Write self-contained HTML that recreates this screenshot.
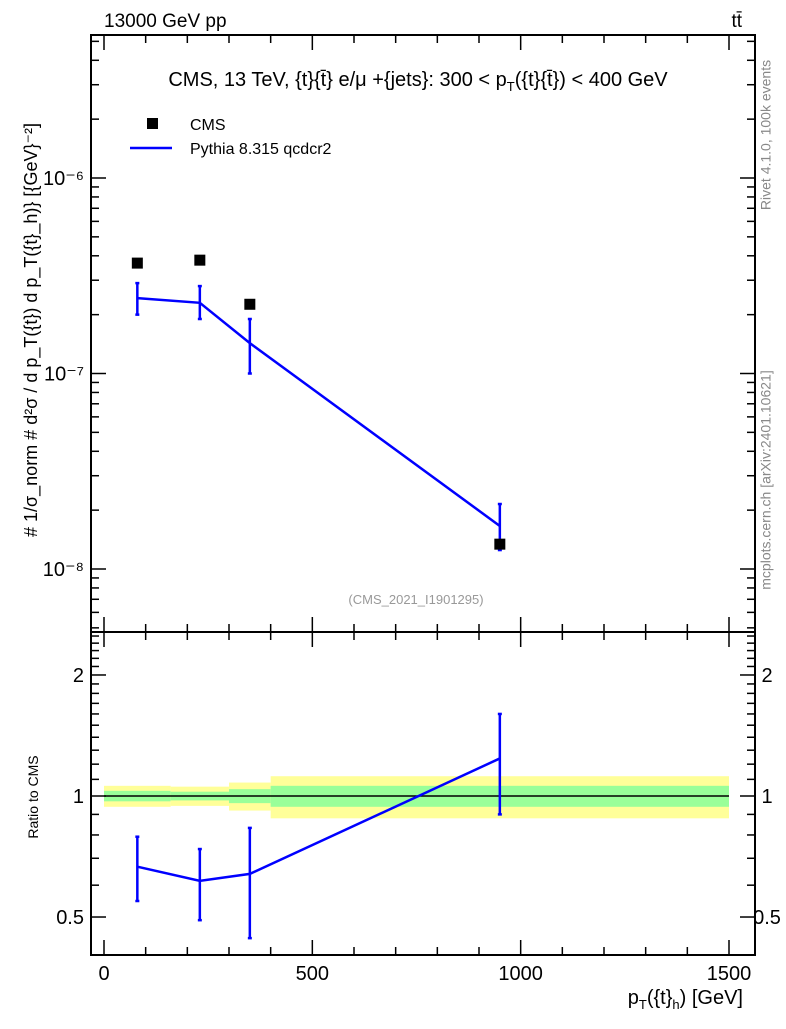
<!DOCTYPE html>
<html><head><meta charset="utf-8"><style>
body{margin:0;background:#fff;font-family:"Liberation Sans",sans-serif}
svg text{font-family:"Liberation Sans","DejaVu Sans",sans-serif}
</style></head><body>
<svg id="c" width="786" height="1024" viewBox="0 0 786 1024" xmlns="http://www.w3.org/2000/svg">
<text x="104" y="27" font-size="19">13000 GeV pp</text>
<text x="742" y="27" font-size="19" text-anchor="end">tt̄</text>
<text x="418" y="86" font-size="20" text-anchor="middle">CMS, 13 TeV, {t}{t̄} e/μ +{jets}: 300 &lt;  p<tspan font-size="13" dy="5">T</tspan><tspan dy="-5">({t}{t̄}) &lt; 400 GeV</tspan></text>
<rect x="147" y="118" width="11" height="11" fill="#000"/>
<text x="190" y="130" font-size="16">CMS</text>
<line x1="130" y1="148" x2="172" y2="148" stroke="#0000ff" stroke-width="2.5"/>
<text x="190" y="154" font-size="16">Pythia 8.315 qcdcr2</text>
<text x="416" y="604" font-size="13" fill="#999" text-anchor="middle">(CMS_2021_I1901295)</text>
<text transform="translate(37,330) rotate(-90)" font-size="18" text-anchor="middle"># 1/σ_norm  # d²σ / d p_T({t}) d p_T({t}_h)} [{GeV}⁻²]</text>
<text transform="translate(38,797) rotate(-90)" font-size="14" text-anchor="middle">Ratio to CMS</text>
<text x="743" y="1004" font-size="20" text-anchor="end">p<tspan font-size="13" dy="5">T</tspan><tspan dy="-5">({t}</tspan><tspan font-size="13" dy="5">h</tspan><tspan dy="-5">) [GeV]</tspan></text>
<text transform="translate(760,135) rotate(-90)" font-size="14" fill="#888" text-anchor="middle" dominant-baseline="hanging">Rivet 4.1.0,  100k events</text>
<text transform="translate(760,480) rotate(-90)" font-size="14" fill="#888" text-anchor="middle" dominant-baseline="hanging">mcplots.cern.ch [arXiv:2401.10621]</text>
<g id="g"></g>
</svg>
<script>
const binEdges=[0,160,300,400,1500];
const binCenters=[80,230,350,950];
const cmsValues=[3.67e-7,3.8e-7,2.26e-7,1.34e-8];
const mcValues=[2.43e-7,2.3e-7,1.43e-7,1.66e-8];
const mcErrUp=[2.9e-7,2.8e-7,1.9e-7,2.15e-8];
const mcErrDn=[2.0e-7,1.9e-7,1.0e-7,1.25e-8];
const ratioValues=[0.667,0.615,0.64,1.24];
const ratioUp=[0.792,0.738,0.833,1.6];
const ratioDn=[0.548,0.491,0.443,0.9];
const yellowHalf=[0.06,0.055,0.08,0.12];
const greenHalf=[0.03,0.025,0.04,0.06];
const xTicks=[0,500,1000,1500];
const yTicks=[1e-8,1e-7,1e-6];
const yTickLabels=["10⁻⁸","10⁻⁷","10⁻⁶"];
const rTicks=[0.5,1,2];
const rTickLabels=["0.5","1","2"];

const NS="http://www.w3.org/2000/svg";
const g=document.getElementById('g');
const L=91,R=755,T=35,M=632,B=955;
const X=v=>104+v*(625/1500);
const Y=v=>178-(Math.log10(v)+6)*195.5;
const RY=v=>796-Math.log10(v)*402;
function mk(t,a){const e=document.createElementNS(NS,t);for(const k in a)e.setAttribute(k,a[k]);g.appendChild(e);return e;}

for(let i=0;i<4;i++){
 let e=mk('rect',{x:X(binEdges[i]),y:RY(1+yellowHalf[i]),width:X(binEdges[i+1])-X(binEdges[i]),height:RY(1-yellowHalf[i])-RY(1+yellowHalf[i]),fill:'#ffff99'});
 
 
 e=mk('rect',{x:X(binEdges[i]),y:RY(1+greenHalf[i]),width:X(binEdges[i+1])-X(binEdges[i]),height:RY(1-greenHalf[i])-RY(1+greenHalf[i]),fill:'#99ff99'});
 
 
}
let l=mk('line',{x1:X(0),x2:X(1500),y1:RY(1),y2:RY(1),stroke:'#000','stroke-width':1.5});



for(const [t,b,n] of [[T,M,'main-frame'],[M,B,'ratio-frame']]){
 const f=mk('rect',{x:L,y:t,width:R-L,height:b-t,fill:'none',stroke:'#000','stroke-width':2});
 
 
}
for(let v=0;v<=1500;v+=100){
 const maj=v%500==0,len=maj?15:8;
 for(const [y,d] of [[M,-1],[T,1],[B,-1],[M,1]]){
  mk('line',{x1:X(v),x2:X(v),y1:y,y2:y+d*len,stroke:'#000','stroke-width':1.5});
 }
}
xTicks.forEach(v=>{const t=mk('text',{x:X(v),y:980,'font-size':20,'text-anchor':'middle'});t.textContent=v;
 
 });
for(let d=-9;d<=-6;d++)for(let k=1;k<10;k++){
 const v=k*Math.pow(10,d),y=Y(v);if(y<T||y>M)continue;
 const len=k==1?15:8;
 mk('line',{x1:L,x2:L+len,y1:y,y2:y,stroke:'#000','stroke-width':1.5});
 mk('line',{x1:R,x2:R-len,y1:y,y2:y,stroke:'#000','stroke-width':1.5});
}
yTicks.forEach((v,i)=>{const t=mk('text',{x:84,y:Y(v)+7,'font-size':20,'text-anchor':'end'});t.textContent=yTickLabels[i];
 
 });
for(let v=0.4;v<=2.56;v+=0.1){
 const y=RY(v);if(y<M||y>B)continue;
 const maj=[0.5,1,2].some(m=>Math.abs(m-v)<1e-6),len=maj?15:8;
 mk('line',{x1:L,x2:L+len,y1:y,y2:y,stroke:'#000','stroke-width':1.5});
 mk('line',{x1:R,x2:R-len,y1:y,y2:y,stroke:'#000','stroke-width':1.5});
}
rTicks.forEach((v,i)=>{for(const [x,a] of [[84,'end'],[767,'middle']]){const t=mk('text',{x:x,y:RY(v)+7,'font-size':20,'text-anchor':a});t.textContent=rTickLabels[i];
 
 }});
function ebar(x,y1,y2,name){
 const e=mk('line',{x1:x,x2:x,y1:y1,y2:y2,stroke:'#0000ff','stroke-width':2.5});
 
 
 for(const y of [y1,y2]) mk('line',{x1:x-2,x2:x+2,y1:y,y2:y,stroke:'#0000ff','stroke-width':2.5});
}
let p=mk('polyline',{points:binCenters.map((c,i)=>X(c)+','+Y(mcValues[i])).join(' '),fill:'none',stroke:'#0000ff','stroke-width':2.5});


binCenters.forEach((c,i)=>{
 ebar(X(c),Y(mcErrUp[i]),Y(mcErrDn[i]),'pythia-errorbar');
 const s=mk('rect',{x:X(c)-5.5,y:Y(cmsValues[i])-5.5,width:11,height:11,fill:'#000'});
 
 
});
p=mk('polyline',{points:binCenters.map((c,i)=>X(c)+','+RY(ratioValues[i])).join(' '),fill:'none',stroke:'#0000ff','stroke-width':2.5});


binCenters.forEach((c,i)=>{
 ebar(X(c),RY(ratioUp[i]),RY(ratioDn[i]),'ratio-errorbar');
});
</script>
</body></html>
